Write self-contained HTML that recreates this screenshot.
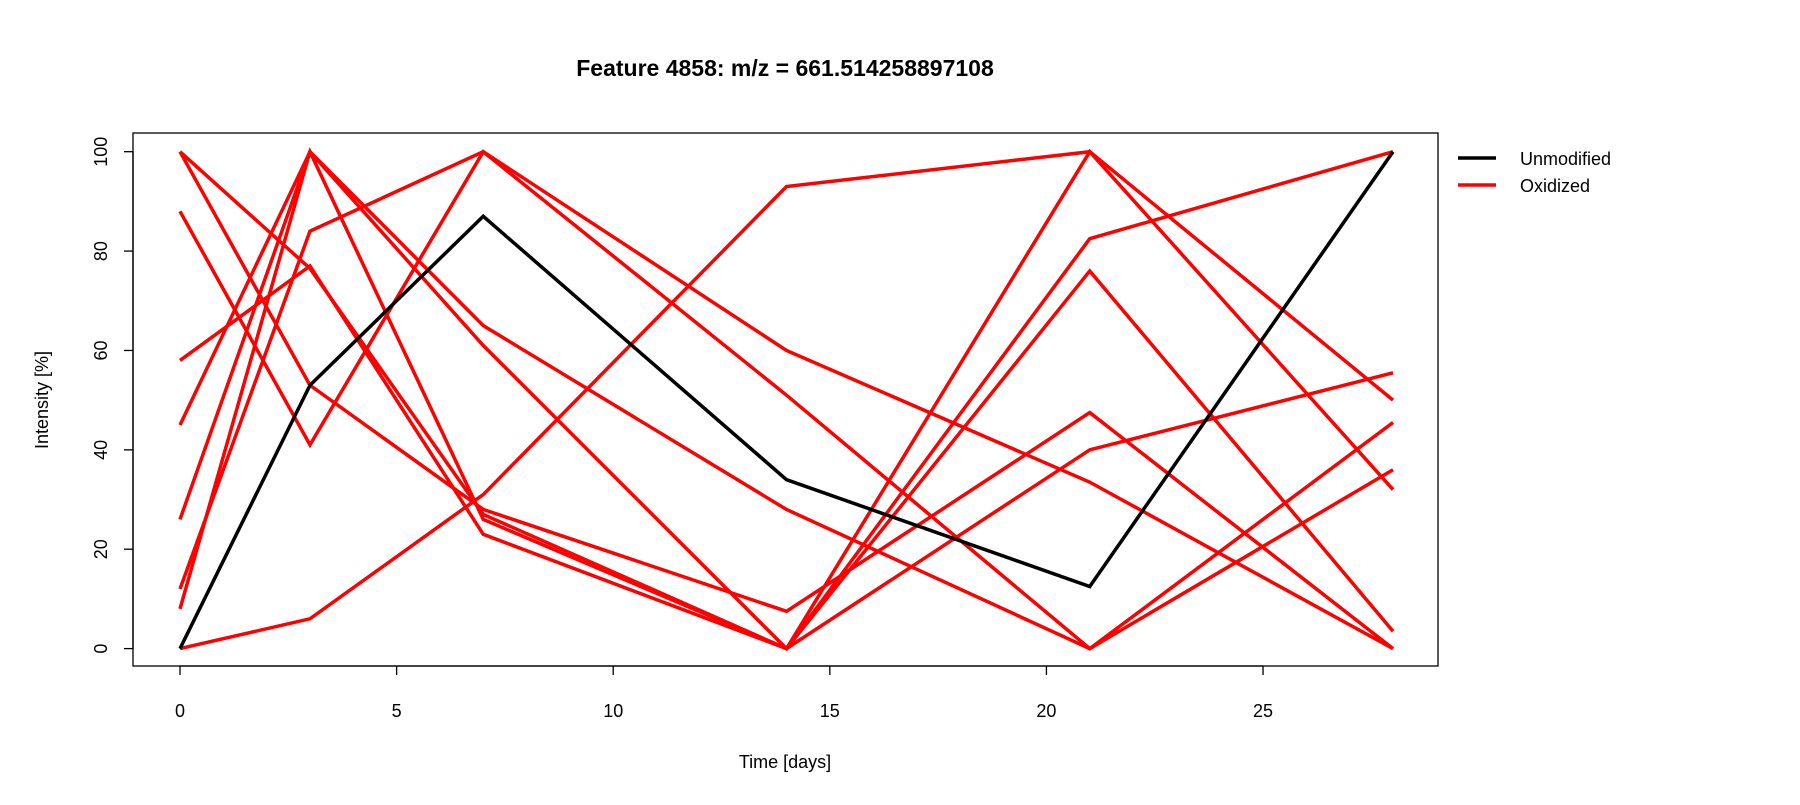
<!DOCTYPE html>
<html><head><meta charset="utf-8"><style>
html,body{margin:0;padding:0;background:#fff;}
svg text{font-family:"Liberation Sans",Arial,sans-serif;}
</style></head><body>
<svg id="chart" width="1800" height="800" xmlns="http://www.w3.org/2000/svg">
<text x="785" y="76" text-anchor="middle" font-size="23" font-weight="bold">Feature 4858: m/z = 661.514258897108</text>
<rect x="133" y="133" width="1305" height="533" fill="none" stroke="#000" stroke-width="1.3"/>
<g id="axes"></g>
<g id="series"></g>
<text x="785" y="768" text-anchor="middle" font-size="18">Time [days]</text>
<text transform="translate(48,400) rotate(-90)" text-anchor="middle" font-size="18">Intensity [%]</text>
<g>
<line x1="1458" y1="158" x2="1496" y2="158" stroke="#000" stroke-width="3.5"/>
<text x="1520" y="165" font-size="18">Unmodified</text>
<line x1="1458" y1="185" x2="1496" y2="185" stroke="#f00" stroke-width="3.5"/>
<text x="1520" y="192" font-size="18">Oxidized</text>
</g>
</svg>
<script>
const days = [0, 3, 7, 14, 21, 28];
const xTicks = [0, 5, 10, 15, 20, 25];
const yTicks = [0, 20, 40, 60, 80, 100];
const unmodified = [0, 53, 87, 34, 12.5, 100];
const ox1 = [88, 41, 100, 60, 33.5, 0];
const ox2 = [45, 100, 65, 28, 0, 36];
const ox3 = [100, 76.5, 27, 0, 100, 32];
const ox4 = [100, 53, 28, 7.5, 47.5, 0];
const ox5 = [58, 77, 23, 0, 76, 3.5];
const ox6 = [26, 100, 26, 0, 82.5, 100];
const ox7 = [12, 84, 100, 51, 0, 45.5];
const ox8 = [8, 100, 61, 0, 40, 55.5];
const ox9 = [0, 6, 31, 93, 100, 50];
const oxidized = [ox1, ox2, ox3, ox4, ox5, ox6, ox7, ox8, ox9];

const NS = "http://www.w3.org/2000/svg";
function xs(d){ return 180 + d * (1393 - 180) / 28; }
function ys(v){ return 648.6 - v * (648.6 - 151.7) / 100; }
const axes = document.getElementById('axes');
function mk(tag, attrs, parent){ const e = document.createElementNS(NS, tag); for (const k in attrs) e.setAttribute(k, attrs[k]); parent.appendChild(e); return e; }

const xl = mk('line', {x1: xs(0), x2: xs(25), y1: 666, y2: 666, stroke: '#000', 'stroke-width': 1.3}, axes);


xTicks.forEach(t => {
  const tk = mk('line', {x1: xs(t), x2: xs(t), y1: 666, y2: 675, stroke: '#000', 'stroke-width': 1.3}, axes);
  
  
  const tx = mk('text', {x: xs(t), y: 717, 'text-anchor': 'middle', 'font-size': 18}, axes);
  tx.textContent = t;
  
  
});
const yl = mk('line', {x1: 133, x2: 133, y1: ys(0), y2: ys(100), stroke: '#000', 'stroke-width': 1.3}, axes);


yTicks.forEach(t => {
  const tk = mk('line', {x1: 124, x2: 133, y1: ys(t), y2: ys(t), stroke: '#000', 'stroke-width': 1.3}, axes);
  
  
  const tx = mk('text', {transform: `translate(107,${ys(t)}) rotate(-90)`, 'text-anchor': 'middle', 'font-size': 18}, axes);
  tx.textContent = t;
  
  
});

const sg = document.getElementById('series');
function drawLine(vals, color, name){
  const pts = vals.map((v, i) => xs(days[i]) + ',' + ys(v)).join(' ');
  const p = mk('polyline', {points: pts, fill: 'none', stroke: color, 'stroke-width': 3.5, 'stroke-linejoin': 'miter'}, sg);
  
  
}
oxidized.forEach((s, i) => drawLine(s, '#ff0000', 'oxidized-line-' + (i + 1)));
drawLine(unmodified, '#000000', 'unmodified-line');
</script>
</body></html>
